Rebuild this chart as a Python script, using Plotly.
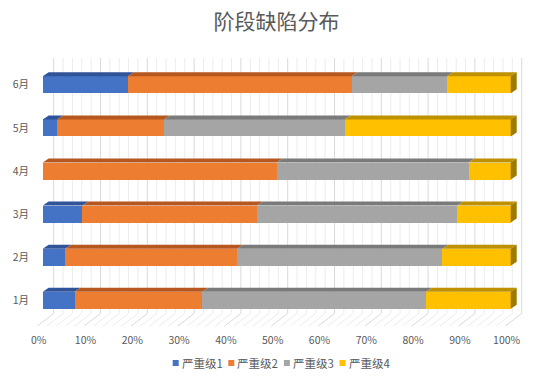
import plotly.graph_objects as go

# ---------------- data ----------------
months = ["1月", "2月", "3月", "4月", "5月", "6月"]
series_names = ["严重级1", "严重级2", "严重级3", "严重级4"]
sev1 = [6.8, 4.8, 8.5, 0.0, 3.1, 18.2]
sev2 = [27.3, 36.7, 37.3, 50.0, 22.8, 47.8]
sev3 = [47.8, 43.9, 42.8, 41.0, 38.6, 20.4]
sev4 = [18.1, 14.6, 11.4, 9.0, 35.5, 13.6]
x_ticks = list(range(0, 101, 10))
title_text = "阶段缺陷分布"

# ---------------- styles ----------------
front_colors = ["#4472C4", "#ED7D31", "#A5A5A5", "#FFC000"]
top_colors = ["#30539A", "#B5571F", "#7A7A7A", "#BF9000"]
side_color = "#9E7A00"
text_color = "#595959"
FONT = "Noto Sans CJK SC"

W, H = 553, 378
PL, PR, PT, PB = 30, 530, 50, 332          # plot area in px
X0_PX, KX = 42.7, 4.68                      # 0% front-face px, px per percent
Y0_PX, KY = 300.3, 43.1                     # first category centre px, px per category
xr = [(PL - X0_PX) / KX, (PR - X0_PX) / KX]
yr = [(Y0_PX - PB) / KY, (Y0_PX - PT) / KY]

BAR_W = 17 / KY                             # bar thickness in category units
DX, DY = 6 / KX, 4 / KY                     # 3D depth offset
BACK_DX = 11 / KX                           # back wall offset
FRONT_DX = -5.3 / KX                        # floor front edge offset
WALL_TOP = (Y0_PX - 58) / KY
WALL_BOT = (Y0_PX - 313.5) / KY
FLOOR_FRONT = (Y0_PX - 326) / KY

values = [sev1, sev2, sev3, sev4]
ypos = list(range(len(months)))
totals = [sum(v[i] for v in values) for i in ypos]
pct = [[v[i] / totals[i] * 100 for i in ypos] for v in values]

fig = go.Figure()
shapes, annos = [], []

# ---------- back wall + floor gridlines (below the bars) ----------
for v in range(0, 101, 2):
    color = "#D9D9D9" if v % 10 == 0 else "#ECECEC"
    xb = v + BACK_DX
    shapes.append(dict(type="line", xref="x", yref="y", layer="below",
                       x0=xb, x1=xb, y0=WALL_BOT, y1=WALL_TOP,
                       line=dict(color=color, width=1)))
    shapes.append(dict(type="line", xref="x", yref="y", layer="below",
                       x0=xb, x1=v + FRONT_DX, y0=WALL_BOT, y1=FLOOR_FRONT,
                       line=dict(color=color, width=1)))

# ---------- bars (front faces) ----------
for s, name in enumerate(series_names):
    fig.add_trace(go.Bar(
        y=ypos, x=pct[s], orientation="h", width=BAR_W, name=name,
        marker=dict(color=front_colors[s], line=dict(width=0)),
        showlegend=False,
    ))

# ---------- top faces ----------
cum = [0.0] * len(months)
for s in range(len(series_names)):
    xs, ys = [], []
    for i in ypos:
        left = cum[i]
        right = cum[i] + pct[s][i]
        cum[i] = right
        if right - left <= 0:
            continue
        yt = i + BAR_W / 2
        xs += [left, right, right + DX, left + DX, left, None]
        ys += [yt, yt, yt + DY, yt + DY, yt, None]
    fig.add_trace(go.Scatter(
        x=xs, y=ys, mode="lines", fill="toself", fillcolor=top_colors[s],
        line=dict(width=0, color=top_colors[s]), hoverinfo="skip", showlegend=False,
    ))

# ---------- right side faces ----------
xs, ys = [], []
for i in ypos:
    end = cum[i]
    yb, yt = i - BAR_W / 2, i + BAR_W / 2
    xs += [end, end, end + DX, end + DX, end, None]
    ys += [yb, yt, yt + DY, yb + DY, yb, None]
fig.add_trace(go.Scatter(
    x=xs, y=ys, mode="lines", fill="toself", fillcolor=side_color,
    line=dict(width=0, color=side_color), hoverinfo="skip", showlegend=False,
))

# ---------- custom legend ----------
plot_w, plot_h = PR - PL, PB - PT
LEG_Y = 363
LEG_X0, LEG_STEP, SQ = 175.7, 55.6, 6
for s, name in enumerate(series_names):
    cx = LEG_X0 + s * LEG_STEP
    shapes.append(dict(
        type="rect", xref="paper", yref="paper",
        x0=(cx - SQ / 2 - PL) / plot_w, x1=(cx + SQ / 2 - PL) / plot_w,
        y0=(PB - (LEG_Y + SQ / 2)) / plot_h, y1=(PB - (LEG_Y - SQ / 2)) / plot_h,
        fillcolor=front_colors[s], line=dict(width=0),
    ))
    annos.append(dict(
        text=name, xref="paper", yref="paper", showarrow=False,
        x=(cx + 4 - PL) / plot_w, y=(PB - LEG_Y) / plot_h,
        xanchor="left", yanchor="middle",
        font=dict(family=FONT, size=11.5, color=text_color),
    ))

fig.update_layout(
    width=W, height=H,
    margin=dict(l=PL, r=W - PR, t=PT, b=H - PB, pad=0),
    paper_bgcolor="white", plot_bgcolor="white",
    barmode="stack", bargap=0,
    showlegend=False,
    title=dict(
        text=title_text, x=0.5, xref="container", xanchor="center",
        y=1 - 21.7 / H, yref="container", yanchor="middle",
        font=dict(family=FONT, size=21, color=text_color),
    ),
    xaxis=dict(
        range=xr, tickvals=x_ticks, ticktext=[f"{t}%" for t in x_ticks],
        showgrid=False, zeroline=False, showline=False, ticks="",
        ticklabelshift=-4, fixedrange=True,
        tickfont=dict(family=FONT, size=10.5, color=text_color),
    ),
    yaxis=dict(
        range=yr, tickvals=ypos, ticktext=months,
        showgrid=False, zeroline=False, showline=False, ticks="",
        fixedrange=True,
        tickfont=dict(family=FONT, size=10.5, color=text_color),
    ),
    shapes=shapes, annotations=annos,
    font=dict(family=FONT, color=text_color),
)

fig.write_html("out.html", config={"displayModeBar": False},
               post_script="document.body.style.margin='0';")
